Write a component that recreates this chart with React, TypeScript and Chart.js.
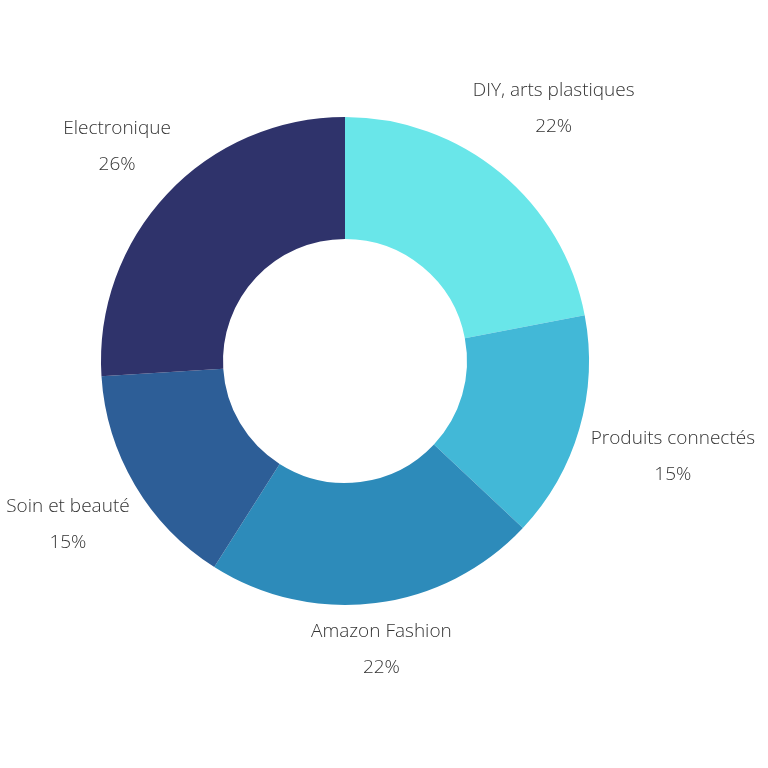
import React, { useEffect, useRef } from "react";
import { Chart, registerables } from "chart.js";

Chart.register(...registerables);

const categories = ["DIY, arts plastiques", "Produits connectés", "Amazon Fashion", "Soin et beauté", "Electronique"];
const values = [22, 15, 22, 15, 26];
const colors = ["#69E6E9", "#42B8D7", "#2D8BBA", "#2D5E97", "#2F336B"];

const FONT = "300 19px 'Open Sans'";
const LINE_GAP = 36;

const outerLabels = {
  id: "outerLabels",
  afterDatasetsDraw(chart: any) {
    const ctx = chart.ctx;
    const meta = chart.getDatasetMeta(0);
    const total = values.reduce((a, b) => a + b, 0);
    ctx.save();
    ctx.font = FONT;
    ctx.fillStyle = "#333333";
    ctx.textAlign = "center";
    ctx.textBaseline = "middle";
    meta.data.forEach((arc: any, i: number) => {
      const p = arc.getProps(["x", "y", "startAngle", "endAngle", "outerRadius"], true);
      const mid = (p.startAngle + p.endAngle) / 2;
      const cx = Math.cos(mid);
      const sy = Math.sin(mid);
      const pct = Math.round((values[i] / total) * 100) + "%";
      const w = Math.max(ctx.measureText(categories[i]).width, ctx.measureText(pct).width);
      const hh = (LINE_GAP + 18) / 2;
      const d = p.outerRadius + 11 + (w / 2) * Math.abs(cx) + hh * Math.abs(sy);
      const x = p.x + d * cx;
      const y = p.y + d * sy;
      ctx.fillText(categories[i], x, y - LINE_GAP / 2);
      ctx.fillText(pct, x, y + LINE_GAP / 2);
    });
    ctx.restore();
  },
};

export default function App() {
  const ref = useRef<HTMLCanvasElement>(null);
  useEffect(() => {
    if (!ref.current) return;
    const chart = new Chart(ref.current, {
      type: "doughnut",
      data: {
        labels: categories,
        datasets: [{ data: values, backgroundColor: colors, borderWidth: 0 }],
      },
      options: {
        animation: false,
        responsive: false,
        cutout: "50%",
        layout: { padding: { left: 101, right: 179, top: 117, bottom: 163 } },
        plugins: { legend: { display: false }, tooltip: { enabled: false } },
      },
      plugins: [outerLabels],
    });
    return () => chart.destroy();
  }, []);
  return (
    <div style={{ position: "absolute", left: 0, top: 0, width: 768, height: 768, background: "#fff" }}>
      <canvas ref={ref} width={768} height={768} style={{ width: 768, height: 768 }} />
    </div>
  );
}
